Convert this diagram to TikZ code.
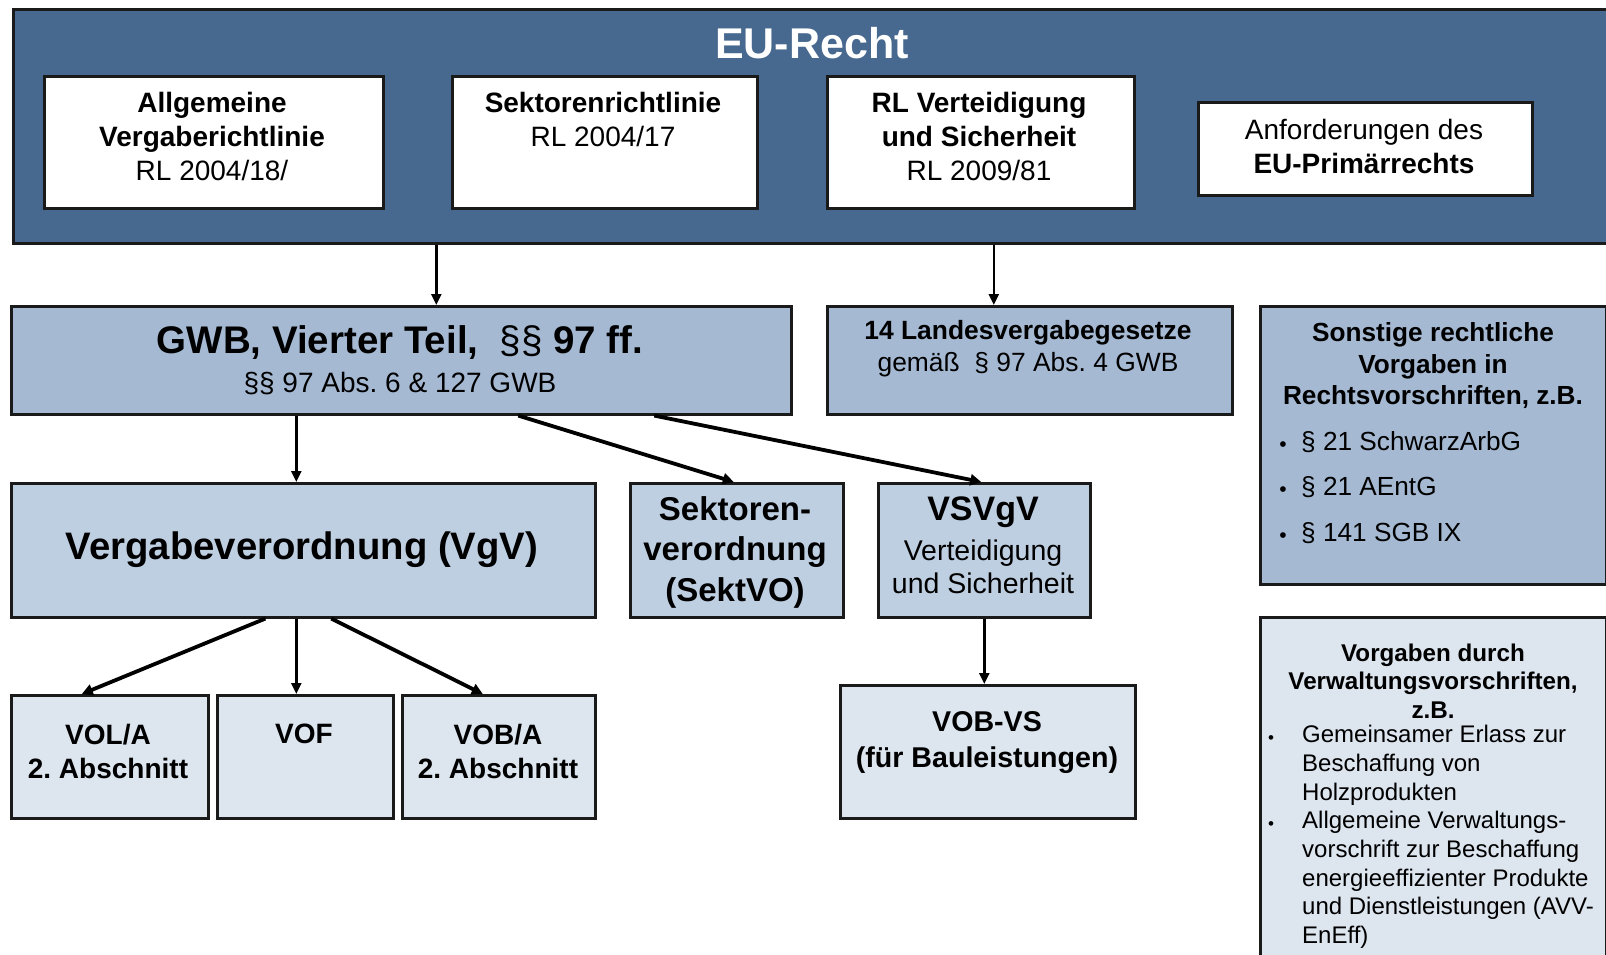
\documentclass[tikz,border=0pt]{standalone}
\usepackage{fontspec}
\setmainfont{Liberation Sans}
\usetikzlibrary{arrows.meta,calc}
\definecolor{eublue}{HTML}{48698F}
\definecolor{midblue}{HTML}{A5B9D3}
\definecolor{lightblue}{HTML}{BFCFE2}
\definecolor{paleblue}{HTML}{DDE5EF}
\definecolor{edge}{HTML}{1A1A1A}
\newcommand\fsz[2]{\fontsize{#1}{#2}\selectfont}
\frenchspacing
\begin{document}
\begin{tikzpicture}[x=1pt,y=-1pt,
  box/.style={draw=edge, line width=2.6pt, inner sep=0pt, anchor=north west},
  txt/.style={inner sep=0pt, align=center, text=black},
  lst/.style={inner sep=0pt, align=left, text=black},
  arr/.style={draw=black, line width=2.6pt, -{Triangle[length=11pt,width=10pt]}},
  arrb/.style={draw=black, line width=3.8pt, -{Triangle[length=11pt,width=11pt]}}]
\useasboundingbox (0,0) rectangle (1606,954);
\fill[white] (0,0) rectangle (1606,954);

% EU-Recht frame
\node[box, fill=eublue, line width=3pt, minimum width=1630, minimum height=234] (eu) at (12,8) {};
\node[txt, text=white, font=\bfseries\fsz{43}{48}] (eutitle) at (812,43) {EU-Recht};

\node[box, fill=white, minimum width=339, minimum height=132] (b1) at (43,75) {};
\node[txt, font=\fsz{28}{34}] (b1t) at (212,136) {\textbf{Allgemeine}\\\textbf{Vergaberichtlinie}\\RL 2004/18/};
\node[box, fill=white, minimum width=305, minimum height=132] (b2) at (451,75) {};
\node[txt, font=\fsz{28}{34}] (b2t) at (603,119) {\textbf{Sektorenrichtlinie}\\RL 2004/17};
\node[box, fill=white, minimum width=307, minimum height=132] (b3) at (826,75) {};
\node[txt, font=\fsz{28}{34}] (b3t) at (979,136) {\textbf{RL Verteidigung}\\\textbf{und Sicherheit}\\RL 2009/81};
\node[box, fill=white, minimum width=334, minimum height=93] (b4) at (1197,101) {};
\node[txt, font=\fsz{28}{34}] (b4t) at (1364,146) {Anforderungen des\\\textbf{EU-Primärrechts}};

% second row
\node[box, fill=midblue, minimum width=780, minimum height=108] (gwb) at (10,305) {};
\node[txt, font=\bfseries\fsz{38.5}{44}] (gwbt) at (400,343) {GWB, Vierter Teil,\ \ {\mdseries §§} 97 ff.};
\node[txt, font=\fsz{28}{32}] (gwbs) at (400,384) {§§ 97 Abs. 6 \& 127 GWB};

\node[box, fill=midblue, minimum width=405, minimum height=108] (land) at (826,305) {};
\node[txt, font=\fsz{26.4}{32}] (landt) at (1028,349) {\textbf{14 Landesvergabegesetze}\\gemäß\ \ § 97 Abs. 4 GWB};

\node[box, fill=midblue, minimum width=346, minimum height=278] (sonst) at (1259,305) {};
\node[txt, font=\bfseries\fsz{26.2}{31.5}] (sonstt) at (1433,366) {Sonstige rechtliche\\Vorgaben in\\Rechtsvorschriften, z.B.};
\node[lst, anchor=center, font=\fsz{21}{22}] (sb1) at (1283,447) {•};
\node[lst, anchor=center, font=\fsz{21}{22}] (sb2) at (1283,492) {•};
\node[lst, anchor=center, font=\fsz{21}{22}] (sb3) at (1283,538) {•};
\node[lst, anchor=west, font=\fsz{26.2}{30}] (si1) at (1301,442) {§ 21 SchwarzArbG};
\node[lst, anchor=west, font=\fsz{26.2}{30}] (si2) at (1301,487) {§ 21 AEntG};
\node[lst, anchor=west, font=\fsz{26.2}{30}] (si3) at (1301,533) {§ 141 SGB IX};

% third row
\node[box, fill=lightblue, minimum width=584, minimum height=134] (vgv) at (10,482) {};
\node[txt, font=\bfseries\fsz{38.3}{44}] (vgvt) at (302,550) {Vergabeverordnung (VgV)};
\node[box, fill=lightblue, minimum width=213, minimum height=134] (sekt) at (629,482) {};
\node[txt, font=\bfseries\fsz{33}{40.5}] (sektt) at (735,552) {Sektoren-\\verordnung\\(SektVO)};
\node[box, fill=lightblue, minimum width=212, minimum height=134] (vsvgv) at (877,482) {};
\node[txt, font=\bfseries\fsz{34}{38}] (vsvgvt) at (983,512) {VSVgV};
\node[txt, font=\fsz{28.5}{33}] (vsvgvs) at (983,567) {Verteidigung\\und Sicherheit};

% vorgaben durch verwaltungsvorschriften
\node[box, fill=paleblue, minimum width=346, minimum height=360] (verw) at (1259,616) {};
\node[txt, font=\bfseries\fsz{24.2}{28.5}] (verwt) at (1433,681) {Vorgaben durch\\Verwaltungsvorschriften,\\z.B.};
\node[lst, anchor=center, font=\fsz{17}{18}] (vb1) at (1271,739.5) {•};
\node[lst, anchor=center, font=\fsz{17}{18}] (vb2) at (1271,825.5) {•};
\node[lst, anchor=north west, font=\fsz{24}{28.7}] (vi1) at (1302,725) {Gemeinsamer Erlass zur\\Beschaffung von\\Holzprodukten};
\node[lst, anchor=north west, font=\fsz{24}{28.7}] (vi2) at (1302,811) {Allgemeine Verwaltungs-\\vorschrift zur Beschaffung\\energieeffizienter Produkte\\und Dienstleistungen (AVV-\\EnEff)};

% bottom row
\node[box, fill=paleblue, minimum width=197, minimum height=123] (vol) at (10,694) {};
\node[txt, font=\bfseries\fsz{28}{34}] (volt) at (108,751) {VOL/A\\2. Abschnitt};
\node[box, fill=paleblue, minimum width=176, minimum height=123] (vof) at (216,694) {};
\node[txt, font=\bfseries\fsz{28}{34}] (voft) at (304,734) {VOF};
\node[box, fill=paleblue, minimum width=193, minimum height=123] (vob) at (401,694) {};
\node[txt, font=\bfseries\fsz{28}{34}] (vobt) at (498,751) {VOB/A\\2. Abschnitt};
\node[box, fill=paleblue, minimum width=295, minimum height=133] (vobvs) at (839,684) {};
\node[txt, font=\bfseries\fsz{28.6}{36}] (vobvst) at (987,743) {VOB-VS\\(für Bauleistungen)};

% connectors
\draw[arr] ([xshift=35pt]gwb.north |- eu.south) -- ([xshift=35pt]gwb.north);
\draw[arr] ([xshift=-36pt]land.north |- eu.south) -- ([xshift=-36pt]land.north);
\draw[arr] ([xshift=-105pt]gwb.south) -- ([xshift=-7pt]vgv.north);
\draw[arrb] ([xshift=117pt]gwb.south) -- ([xshift=-3pt]sekt.north);
\draw[arrb] ([xshift=253pt]gwb.south) -- ([xshift=-3pt]vsvgv.north);
\draw[arrb] ([xshift=-38pt]vgv.south) -- ([xshift=-28pt]vol.north);
\draw[arr] ([xshift=-7pt]vgv.south) -- ([xshift=-9pt]vof.north);
\draw[arrb] ([xshift=28pt]vgv.south) -- ([xshift=-16pt]vob.north);
\draw[arr] (vsvgv.south) -- (vsvgv.south |- vobvs.north);
\end{tikzpicture}
\end{document}
